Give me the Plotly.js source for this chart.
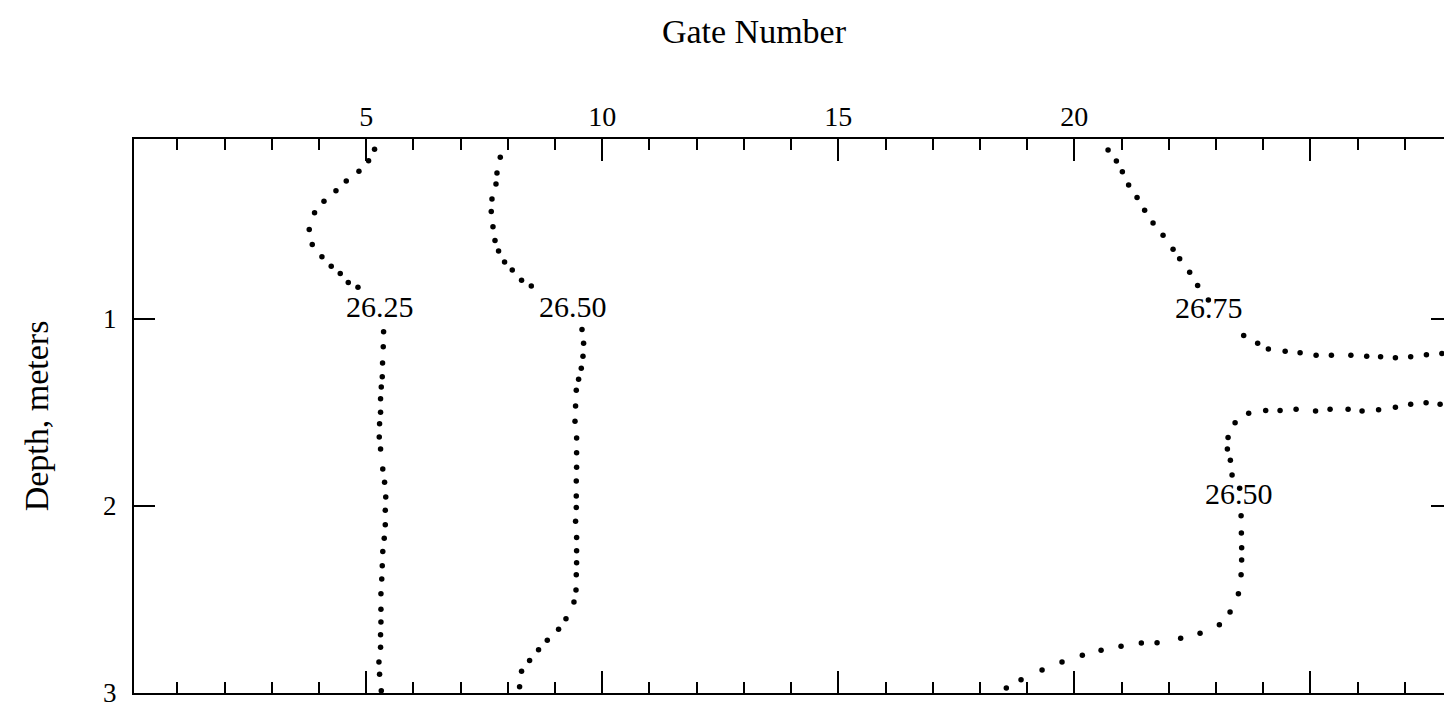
<!DOCTYPE html>
<html>
<head>
<meta charset="utf-8">
<script src="https://cdn.plot.ly/plotly-3.0.1.min.js"></script>
<style>
html,body{margin:0;padding:0;overflow:hidden;background:#fff;}
#chart{width:1452px;height:708px;}
</style>
</head>
<body>
<div id="chart"></div>
<script>
// Contour 26.25 (left)
const gate2625 = [5.176,5.049,4.845,4.576,4.358,4.104,3.905,3.792,3.856,4.061,4.258,4.449,4.619,4.824,
  5.367,5.360,5.345,5.339,5.318,5.303,5.303,5.282,5.275,5.303,5.350,5.388,5.413,5.403,5.403,5.381,5.350,5.339,5.328,5.311,5.311,5.311,5.303,5.303,5.269,5.282,5.318];
const depth2625 = [0.096,0.157,0.213,0.265,0.318,0.374,0.435,0.524,0.604,0.670,0.721,0.760,0.807,0.833,
  1.071,1.151,1.238,1.311,1.366,1.429,1.501,1.562,1.632,1.697,1.804,1.875,1.953,2.024,2.101,2.174,2.244,2.320,2.391,2.470,2.553,2.621,2.689,2.756,2.834,2.900,2.988];

// Contour 26.50 (left)
const gate2650a = [7.839,7.769,7.748,7.663,7.648,7.684,7.727,7.803,7.930,8.093,8.290,8.496,
  9.570,9.604,9.591,9.555,9.498,9.449,9.434,9.422,9.456,9.456,9.456,9.449,9.449,9.449,9.434,9.456,9.456,9.456,9.449,9.443,9.400,9.231,9.074,8.835,8.650,8.460,8.290,8.248];
const depth2650a = [0.139,0.222,0.281,0.362,0.428,0.510,0.583,0.639,0.698,0.741,0.796,0.826,
  1.058,1.132,1.202,1.265,1.324,1.383,1.467,1.548,1.638,1.717,1.794,1.868,1.948,2.009,2.083,2.170,2.240,2.304,2.369,2.450,2.514,2.603,2.660,2.718,2.769,2.827,2.884,2.967];

// Contour 26.75 (right, upper)
const gate2675 = [20.714,20.890,21.017,21.150,21.328,21.489,21.667,21.879,22.091,22.231,22.443,22.612,22.839,
  23.587,23.883,24.110,24.466,24.782,25.121,25.445,25.858,26.193,26.487,26.801,27.125,27.458,27.786];
const depth2675 = [0.100,0.159,0.216,0.287,0.353,0.421,0.490,0.555,0.630,0.681,0.753,0.823,0.901,
  1.091,1.132,1.163,1.174,1.183,1.196,1.196,1.196,1.202,1.204,1.210,1.204,1.193,1.187];

// Contour 26.50 (right, lower)
const gate2650b = [27.748,27.451,27.125,26.801,26.445,26.095,25.799,25.417,25.110,24.697,24.358,24.053,23.693,23.405,23.256,23.242,23.305,23.341,23.502,
  23.532,23.538,23.544,23.544,23.532,23.475,23.299,23.072,22.663,22.252,21.752,21.419,20.989,20.566,20.169,19.739,19.316,18.871,18.559];
const depth2650b = [1.458,1.450,1.458,1.474,1.487,1.494,1.485,1.485,1.494,1.485,1.491,1.491,1.506,1.557,1.635,1.697,1.757,1.836,1.906,
  2.053,2.145,2.224,2.290,2.368,2.470,2.568,2.635,2.681,2.708,2.731,2.733,2.750,2.772,2.799,2.834,2.877,2.929,2.973];

// Contour labels
const labelText = ['26.25','26.50','26.75','26.50'];
const labelGate = [5.297,9.375,22.860,23.496];
const labelDepth = [0.938,0.933,0.941,1.937];

// Axis ticks
const xTickVals = [5,10,15,20,25];
const xTickText = ['5','10','15','20',''];
const yTickVals = [1,2,3];
const yTickText = ['1','2','3'];

const serif = 'Liberation Serif, Times New Roman, serif';
const dot = {color:'#000', size:5.5};

function tr(x,y,name){return {x:x,y:y,mode:'markers',type:'scatter',marker:dot,name:name,hoverinfo:'x+y',cliponaxis:false};}

const data = [
  tr(gate2625, depth2625, '26.25'),
  tr(gate2650a, depth2650a, '26.50'),
  tr(gate2675, depth2675, '26.75'),
  tr(gate2650b, depth2650b, '26.50 (right)')
];

const annotations = labelText.map((t,i)=>({
  x:labelGate[i], y:labelDepth[i], xref:'x', yref:'y', text:t, showarrow:false,
  font:{family:serif, size:30, color:'#000'}, xanchor:'center', yanchor:'middle', bgcolor:'rgba(0,0,0,0)'
}));

const layout = {
  width:1452, height:708,
  margin:{l:134, r:0, t:139, b:15, pad:0},
  paper_bgcolor:'#fff', plot_bgcolor:'#fff',
  showlegend:false,
  font:{family:serif, color:'#000'},
  title:{text:'Gate Number', font:{family:serif, size:34, color:'#000'},
    xref:'container', x:754/1452, xanchor:'center', yref:'container', y:1-31/708, yanchor:'middle'},
  xaxis:{
    side:'top', range:[0.08,28.0], showgrid:false, zeroline:false,
    showline:true, linecolor:'#000', linewidth:2, mirror:'ticks',
    tickmode:'array', tickvals:xTickVals, ticktext:xTickText,
    ticks:'inside', ticklen:22, tickwidth:2, tickcolor:'#000',
    tickfont:{family:serif, size:28, color:'#000'},
    minor:{tickmode:'linear', tick0:0, dtick:1, ticks:'inside', ticklen:11, tickwidth:2, tickcolor:'#000', showgrid:false}
  },
  yaxis:{
    range:[3,0.041], showgrid:false, zeroline:false,
    showline:true, linecolor:'#000', linewidth:2, mirror:'ticks',
    tickmode:'array', tickvals:yTickVals, ticktext:yTickText,
    ticks:'inside', ticklen:21, tickwidth:2, tickcolor:'#000',
    ticklabelstandoff:10, ticklabeloverflow:'allow',
    tickfont:{family:serif, size:27, color:'#000'},
    title:{text:'Depth, meters', font:{family:serif, size:34, color:'#000'}, standoff:44}
  },
  annotations:annotations
};

Plotly.newPlot('chart', data, layout, {displayModeBar:false, staticPlot:true});
</script>
</body>
</html>
